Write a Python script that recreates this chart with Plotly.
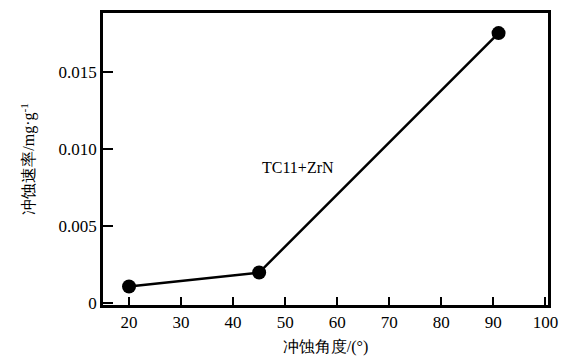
import plotly.graph_objects as go

angles = [20, 45, 91]
rates = [0.0011, 0.0020, 0.0175]
x_ticks = [20, 30, 40, 50, 60, 70, 80, 90, 100]
y_ticks = [0, 0.005, 0.010, 0.015]
y_tick_labels = ["0", "0.005", "0.010", "0.015"]
label_text = "TC11+ZrN"

FONT = "Liberation Serif, serif"

fig = go.Figure()
fig.add_trace(go.Scatter(
    x=angles, y=rates, mode="lines+markers",
    line=dict(color="black", width=2.5),
    marker=dict(color="black", size=14),
    showlegend=False,
))

fig.add_annotation(x=52.5, y=0.0088, text=label_text, showarrow=False,
                   font=dict(family=FONT, size=16, color="black"))

axis_common = dict(
    showline=True, linecolor="black", linewidth=2.5, mirror=True,
    ticks="inside", tickcolor="black", tickwidth=2,
    showgrid=False, zeroline=False, automargin=False,
    tickfont=dict(family=FONT, size=17, color="black"),
)

fig.update_xaxes(
    range=[15, 100.5], tickvals=x_ticks, ticklen=8,
    title=dict(text="冲蚀角度/(°)", font=dict(family=FONT, size=16, color="black"), standoff=10),
    **axis_common,
)
fig.update_yaxes(
    range=[-0.0001, 0.0188], tickvals=y_ticks, ticktext=y_tick_labels, ticklen=10,
    title=dict(text="冲蚀速率/mg·g<sup>-1</sup>", font=dict(family=FONT, size=16, color="black"), standoff=20),
    **axis_common,
)

fig.update_layout(
    width=562, height=363,
    margin=dict(l=103, r=14, t=13, b=58, autoexpand=False),
    plot_bgcolor="white", paper_bgcolor="white",
)

fig.write_html("out.html", config={"displayModeBar": False},
               post_script="document.body.style.margin='0';document.body.style.overflow='hidden';")
